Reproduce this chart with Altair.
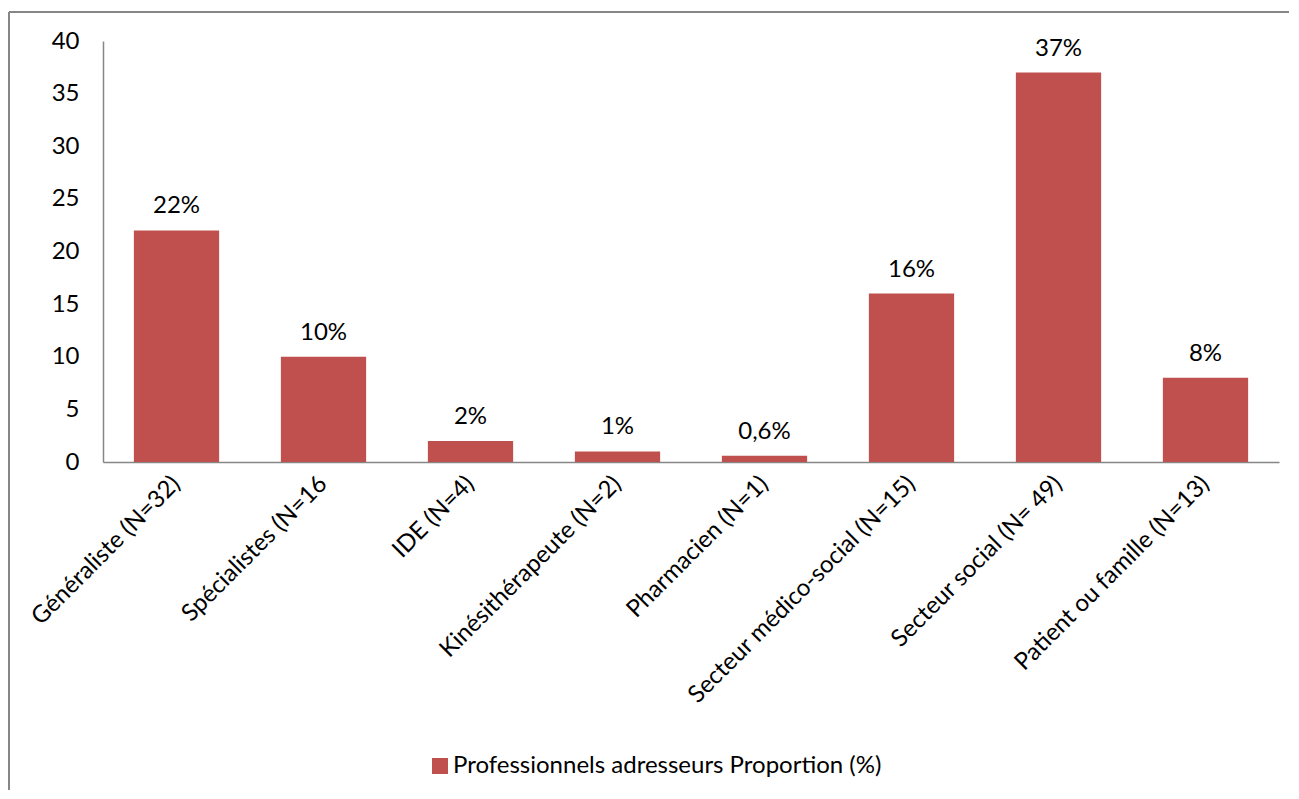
import altair as alt
import pandas as pd

categories = [
    "Généraliste (N=32)",
    "Spécialistes (N=16",
    "IDE (N=4)",
    "Kinésithérapeute (N=2)",
    "Pharmacien (N=1)",
    "Secteur médico-social (N=15)",
    "Secteur social (N= 49)",
    "Patient ou famille (N=13)",
]
values = [22, 10, 2, 1, 0.6, 16, 37, 8]
value_labels = ["22%", "10%", "2%", "1%", "0,6%", "16%", "37%", "8%"]
series_name = "Professionnels adresseurs Proportion (%)"

df = pd.DataFrame({
    "cat": categories,
    "val": values,
    "lab": value_labels,
    "series": [series_name] * len(categories),
})

FONT = "Lato"
FS = 24
BAR = "#C0504D"
GRAY = "#868686"

x = alt.X(
    "cat:N",
    sort=categories,
    scale=alt.Scale(paddingInner=0.42, paddingOuter=0.21),
    axis=alt.Axis(
        title=None, labelAngle=-45, ticks=False, domainColor=GRAY, domainWidth=1.5,
        labelFont=FONT, labelFontSize=FS, labelColor="black", labelPadding=18,
        labelAlign="right", labelBaseline="middle", labelLimit=500,
    ),
)
y = alt.Y(
    "val:Q",
    scale=alt.Scale(domain=[0, 40]),
    axis=alt.Axis(
        title=None, values=[0, 5, 10, 15, 20, 25, 30, 35, 40], ticks=False, grid=False,
        domainColor=GRAY, domainWidth=1.5, labelFont=FONT, labelFontSize=FS,
        labelColor="black", labelPadding=24,
    ),
)

bars = alt.Chart(df).mark_bar(color=BAR).encode(
    x=x,
    y=y,
    color=alt.Color(
        "series:N",
        scale=alt.Scale(range=[BAR]),
        legend=alt.Legend(
            title=None, orient="none", legendX=325, legendY=713, symbolType="square",
            symbolSize=256, symbolStrokeWidth=0, labelFont=FONT, labelFontSize=FS,
            labelColor="black", labelOffset=1, padding=0, labelLimit=800,
        ),
    ),
)

texts = alt.Chart(df).mark_text(
    font=FONT, fontSize=FS, color="black", baseline="alphabetic", dy=-17
).encode(x=alt.X("cat:N", sort=categories), y="val:Q", text="lab:N")

frame_top = alt.Chart(df).mark_rule(color=GRAY, strokeWidth=1.5).encode(
    x=alt.value(-94), x2=alt.value(1300), y=alt.value(-29)
)
frame_left = alt.Chart(df).mark_rule(color=GRAY, strokeWidth=1.5).encode(
    x=alt.value(-94), y=alt.value(-29), y2=alt.value(900)
)

chart = alt.layer(frame_top, frame_left, bars, texts).properties(
    width=1176,
    height=421,
    background="white",
    autosize=alt.AutoSizeParams(type="none"),
    padding={"left": 95, "top": 33, "right": 10, "bottom": 328},
).configure_view(stroke=None)

chart.save("out.html", embed_options={"renderer": "svg", "actions": False})
